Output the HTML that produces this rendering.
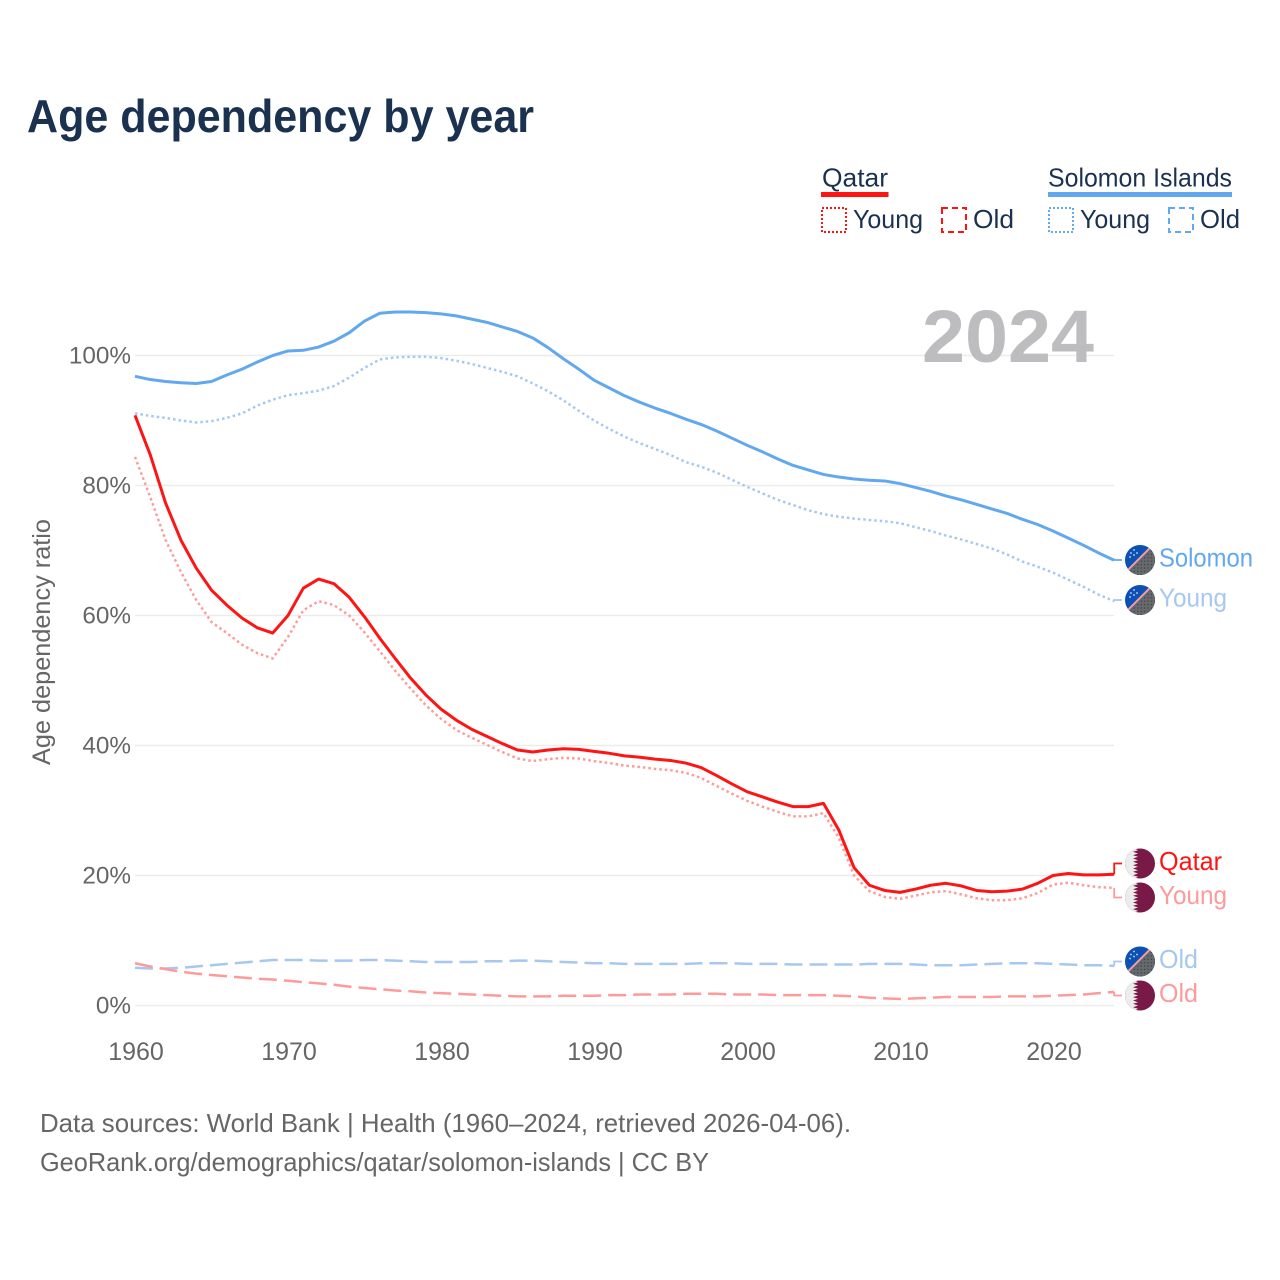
<!DOCTYPE html>
<html lang="en">
<head>
<meta charset="utf-8">
<title>Age dependency by year</title>
<style>
  html, body { margin: 0; padding: 0; background: #fff; }
  svg { display: block; }
  text { font-family: "Liberation Sans", sans-serif; }
</style>
</head>
<body>
<svg id="chart" xmlns="http://www.w3.org/2000/svg" width="1280" height="1280" viewBox="0 0 1280 1280">
  <defs>
    <clipPath id="flag-clip"><circle cx="0" cy="0" r="15"/></clipPath>
    <pattern id="solomon-dots" width="3.4" height="3.4" patternUnits="userSpaceOnUse">
      <rect width="3.4" height="3.4" fill="#666a6c"/>
      <circle cx="1.2" cy="1.2" r="0.7" fill="#3a4043"/>
    </pattern>
    <g id="flag-solomon" clip-path="url(#flag-clip)">
      <rect x="-16" y="-16" width="32" height="32" fill="#0b50b2"/>
      <polygon points="16,-16 16,16 -16,16" fill="url(#solomon-dots)"/>
      <line x1="-16" y1="14" x2="14" y2="-16" stroke="#f59a97" stroke-width="2.2"/>
      <circle cx="-9" cy="-7" r="0.9" fill="#cfe0f5"/>
      <circle cx="-6" cy="-10" r="0.9" fill="#cfe0f5"/>
      <circle cx="-3" cy="-7" r="0.9" fill="#cfe0f5"/>
      <circle cx="-6" cy="-5" r="0.9" fill="#cfe0f5"/>
      <circle cx="-10" cy="-3" r="0.9" fill="#cfe0f5"/>
    </g>
    <g id="flag-qatar" clip-path="url(#flag-clip)">
      <rect x="-16" y="-16" width="32" height="32" fill="#791947"/>
      <polygon points="-16,-16 -7,-16 -2,-13.3 -7,-11.7 -2,-10 -7,-8.3 -2,-6.7 -7,-5 -2,-3.3 -7,-1.7 -2,0 -7,1.7 -2,3.3 -7,5 -2,6.7 -7,8.3 -2,10 -7,11.7 -2,13.3 -7,16 -16,16" fill="#ececec"/>
    </g>
  </defs>

  <rect x="0" y="0" width="1280" height="1280" fill="#ffffff"/>

  <text x="27" y="132" font-size="46" font-weight="700" fill="#1a3250" textLength="507" lengthAdjust="spacingAndGlyphs">Age dependency by year</text>

  <g>
    <text x="822" y="186.500" font-size="26" fill="#1a3250" textLength="66" lengthAdjust="spacingAndGlyphs">Qatar</text>
    <rect x="821" y="192" width="67.500" height="5" fill="#ff1414"/>
    <text x="1048" y="186.500" font-size="26" fill="#1a3250" textLength="184" lengthAdjust="spacingAndGlyphs">Solomon Islands</text>
    <rect x="1048" y="192" width="184" height="5" fill="#62a8ef"/>

    <rect x="822" y="208" width="24" height="24" fill="none" stroke="#ff1414" stroke-width="2" stroke-dasharray="2 2"/>
    <text x="853" y="228" font-size="26" fill="#1a3250" textLength="70" lengthAdjust="spacingAndGlyphs">Young</text>
    <rect x="942" y="208" width="24" height="24" fill="none" stroke="#ff1414" stroke-width="2" stroke-dasharray="6 4"/>
    <text x="973" y="228" font-size="26" fill="#1a3250" textLength="41" lengthAdjust="spacingAndGlyphs">Old</text>

    <rect x="1049" y="208" width="24" height="24" fill="none" stroke="#62a8ef" stroke-width="2" stroke-dasharray="2 2"/>
    <text x="1080" y="228" font-size="26" fill="#1a3250" textLength="70" lengthAdjust="spacingAndGlyphs">Young</text>
    <rect x="1169" y="208" width="24" height="24" fill="none" stroke="#62a8ef" stroke-width="2" stroke-dasharray="6 4"/>
    <text x="1200" y="228" font-size="26" fill="#1a3250" textLength="40" lengthAdjust="spacingAndGlyphs">Old</text>
  </g>

  <g id="grid"></g>

  <text x="922" y="362" font-size="74" font-weight="700" fill="#bdbdbf" textLength="172" lengthAdjust="spacingAndGlyphs">2024</text>

  <text transform="translate(50 642) rotate(-90)" text-anchor="middle" font-size="25" fill="#666666" textLength="246" lengthAdjust="spacingAndGlyphs">Age dependency ratio</text>

  <g id="y-ticks"></g>
  <g id="x-ticks"></g>
  <g id="series"></g>
  <g id="end-labels"></g>

  <text x="40" y="1132" font-size="26" fill="#666666" textLength="811" lengthAdjust="spacingAndGlyphs">Data sources: World Bank | Health (1960–2024, retrieved 2026-04-06).</text>
  <text x="40" y="1171" font-size="26" fill="#666666" textLength="669" lengthAdjust="spacingAndGlyphs">GeoRank.org/demographics/qatar/solomon-islands | CC BY</text>
</svg>

<script>
var startYear = 1960;
var endYear = 2024;
var yTickValues = [0, 20, 40, 60, 80, 100];
var yTickLabels = ["0%", "20%", "40%", "60%", "80%", "100%"];
var xTickValues = [1960, 1970, 1980, 1990, 2000, 2010, 2020];
var xTickLabels = ["1960", "1970", "1980", "1990", "2000", "2010", "2020"];

var solomonTotal = [
  96.8,96.3,96.0,95.8,95.7,96.0,97.0,97.9,99.0,100.0,
  100.7,100.8,101.3,102.2,103.5,105.3,106.5,106.7,106.7,106.6,
  106.4,106.1,105.6,105.1,104.4,103.7,102.7,101.2,99.5,97.9,
  96.2,95.0,93.8,92.8,91.9,91.1,90.2,89.4,88.4,87.3,
  86.2,85.2,84.1,83.1,82.4,81.7,81.3,81.0,80.8,80.7,
  80.3,79.7,79.1,78.4,77.8,77.1,76.4,75.7,74.8,74.0,
  73.0,71.9,70.8,69.6,68.5
];
var solomonYoung = [
  91.1,90.7,90.4,90.0,89.7,89.9,90.4,91.1,92.3,93.2,
  93.9,94.2,94.6,95.3,96.6,98.1,99.4,99.7,99.8,99.8,
  99.6,99.2,98.7,98.1,97.5,96.8,95.7,94.5,93.1,91.5,
  90.0,88.7,87.5,86.5,85.6,84.7,83.6,82.9,82.0,80.9,
  79.8,78.8,77.8,77.0,76.2,75.6,75.2,74.9,74.7,74.5,
  74.2,73.6,73.0,72.3,71.7,71.0,70.3,69.4,68.3,67.5,
  66.6,65.5,64.4,63.2,62.2
];
var solomonOld = [
  5.8,5.7,5.7,5.8,6.0,6.2,6.4,6.6,6.8,7.0,
  7.0,7.0,6.9,6.9,6.9,7.0,7.0,6.9,6.8,6.7,
  6.7,6.7,6.7,6.8,6.8,6.9,6.9,6.8,6.7,6.6,
  6.5,6.5,6.4,6.4,6.4,6.4,6.4,6.5,6.5,6.5,
  6.4,6.4,6.4,6.3,6.3,6.3,6.3,6.3,6.4,6.4,
  6.4,6.3,6.2,6.2,6.2,6.3,6.4,6.5,6.5,6.5,
  6.4,6.3,6.2,6.2,6.1
];
var qatarTotal = [
  90.8,84.7,77.3,71.6,67.3,63.9,61.6,59.6,58.1,57.3,
  60.0,64.2,65.6,64.9,62.8,59.8,56.5,53.4,50.4,47.8,
  45.6,43.9,42.5,41.4,40.3,39.3,39.0,39.3,39.5,39.4,
  39.1,38.8,38.4,38.2,37.9,37.7,37.3,36.6,35.4,34.1,
  32.9,32.1,31.3,30.6,30.6,31.1,27.0,21.2,18.5,17.7,
  17.4,17.9,18.5,18.8,18.4,17.7,17.5,17.6,17.9,18.8,
  20.0,20.3,20.1,20.1,20.2
];
var qatarYoung = [
  84.4,78.2,71.6,66.7,62.4,59.0,57.3,55.5,54.2,53.4,
  56.7,60.8,62.2,61.6,60.0,57.4,54.5,51.5,48.8,46.2,
  44.1,42.4,41.2,40.1,39.0,38.0,37.6,37.9,38.1,38.0,
  37.6,37.3,36.9,36.7,36.4,36.2,35.8,35.0,33.8,32.6,
  31.5,30.6,29.8,29.1,29.1,29.6,25.8,20.0,17.6,16.7,
  16.4,16.9,17.4,17.6,17.1,16.5,16.2,16.2,16.5,17.3,
  18.6,18.9,18.5,18.2,18.1
];
var qatarOld = [
  6.5,6.0,5.6,5.2,4.9,4.7,4.5,4.3,4.1,4.0,
  3.8,3.6,3.4,3.2,2.9,2.7,2.5,2.3,2.2,2.0,
  1.9,1.8,1.7,1.6,1.5,1.4,1.4,1.4,1.5,1.5,
  1.5,1.6,1.6,1.7,1.7,1.7,1.8,1.8,1.8,1.7,
  1.7,1.7,1.6,1.6,1.6,1.6,1.5,1.4,1.2,1.1,
  1.0,1.1,1.2,1.3,1.3,1.3,1.3,1.4,1.4,1.4,
  1.5,1.6,1.7,1.9,2.1
];

var NS = "http://www.w3.org/2000/svg";
function xScale(year) { return 135 + (year - startYear) * (1114.2 - 135) / (endYear - startYear); }
function yScale(pct) { return 1005.5 - pct * 6.5; }
function make(tag, parent) {
  var el = document.createElementNS(NS, tag);
  document.getElementById(parent).appendChild(el);
  return el;
}

yTickValues.forEach(function (v, i) {
  var line = make("line", "grid");
  
  
  line.setAttribute("x1", 135);
  line.setAttribute("x2", 1114);
  line.setAttribute("y1", yScale(v));
  line.setAttribute("y2", yScale(v));
  line.setAttribute("stroke", "#ececec");
  line.setAttribute("stroke-width", 1.5);

  var label = make("text", "y-ticks");
  
  
  label.setAttribute("x", 131);
  label.setAttribute("y", yScale(v) + 8);
  label.setAttribute("text-anchor", "end");
  label.setAttribute("font-size", 24.3);
  label.setAttribute("fill", "#666666");
  label.textContent = yTickLabels[i];
});

xTickValues.forEach(function (v, i) {
  var label = make("text", "x-ticks");
  
  
  label.setAttribute("x", xScale(v) + 1);
  label.setAttribute("y", 1060);
  label.setAttribute("text-anchor", "middle");
  label.setAttribute("font-size", 25);
  label.setAttribute("fill", "#666666");
  label.textContent = xTickLabels[i];
});

var seriesList = [
  { key: "solomon-old",   values: solomonOld,   color: "#a6c8f0", dash: "18 7",  width: 2.5, text: "Old",     labelY: 961.5, flag: "#flag-solomon", labelLength: 39 },
  { key: "qatar-old",     values: qatarOld,     color: "#ff9a9a", dash: "18 7",  width: 2.5, text: "Old",     labelY: 995.5, flag: "#flag-qatar",   labelLength: 39 },
  { key: "solomon-young", values: solomonYoung, color: "#a6c8f0", dash: "2.5 3", width: 2.5, text: "Young",   labelY: 600,   flag: "#flag-solomon", labelLength: 68 },
  { key: "qatar-young",   values: qatarYoung,   color: "#ff9a9a", dash: "2.5 3", width: 2.5, text: "Young",   labelY: 897.5, flag: "#flag-qatar",   labelLength: 68 },
  { key: "solomon-total", values: solomonTotal, color: "#62a8ef", dash: "",      width: 3,   text: "Solomon", labelY: 560,   flag: "#flag-solomon", labelLength: 94 },
  { key: "qatar-total",   values: qatarTotal,   color: "#ff1414", dash: "",      width: 3,   text: "Qatar",   labelY: 863.5, flag: "#flag-qatar",   labelLength: 63 }
];

seriesList.forEach(function (s) {
  var d = "";
  s.values.forEach(function (v, i) {
    d += (i ? "L" : "M") + xScale(startYear + i).toFixed(2) + " " + yScale(v).toFixed(2);
  });

  var path = make("path", "series");
  
  
  path.setAttribute("d", d);
  path.setAttribute("fill", "none");
  path.setAttribute("stroke", s.color);
  path.setAttribute("stroke-width", s.width);
  path.setAttribute("stroke-linejoin", "round");
  if (s.dash) { path.setAttribute("stroke-dasharray", s.dash); }

  var endX = xScale(endYear);
  var endY = yScale(s.values[s.values.length - 1]);
  var connector = make("path", "series");
  
  
  connector.setAttribute("d", "M" + endX.toFixed(2) + " " + endY.toFixed(2) + "V" + s.labelY + "H1122");
  connector.setAttribute("fill", "none");
  connector.setAttribute("stroke", s.color);
  connector.setAttribute("stroke-width", 1.8);

  var flag = make("use", "end-labels");
  
  
  flag.setAttribute("href", s.flag);
  flag.setAttribute("transform", "translate(1140 " + s.labelY + ")");

  var label = make("text", "end-labels");
  
  
  label.setAttribute("x", 1159);
  label.setAttribute("y", s.labelY + 6.5);
  label.setAttribute("font-size", 26);
  label.setAttribute("fill", s.color);
  label.setAttribute("textLength", s.labelLength);
  label.setAttribute("lengthAdjust", "spacingAndGlyphs");
  label.textContent = s.text;
});
</script>
</body>
</html>
